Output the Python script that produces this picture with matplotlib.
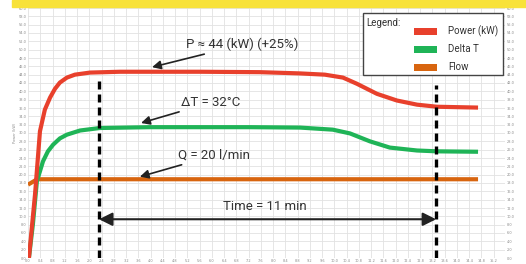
import matplotlib.pyplot as plt
from matplotlib.patches import Rectangle
import numpy as np

# Curves (time in min, value on the left scale)
power_t = [0.03, 0.23, 0.39, 0.55, 0.72, 0.88, 1.04, 1.27, 1.53, 2.02, 3.00, 5.61,
           7.57, 8.88, 9.69, 10.28, 10.74, 11.39, 12.04, 12.70, 13.35, 14.69]
power_v = [0.0, 15.3, 30.4, 35.6, 38.5, 40.6, 42.1, 43.3, 44.0, 44.5, 44.7, 44.7,
           44.6, 44.3, 44.0, 43.3, 41.8, 39.4, 37.8, 36.8, 36.3, 36.1]

delta_t = [0.03, 0.16, 0.29, 0.49, 0.65, 0.82, 1.04, 1.27, 1.70, 2.35, 3.98, 7.25,
           8.88, 9.95, 10.51, 11.16, 11.81, 12.70, 13.35, 14.69]
delta_v = [0.0, 8.1, 18.4, 23.2, 25.6, 27.2, 28.7, 29.6, 30.6, 31.2, 31.4, 31.4,
           31.3, 30.8, 29.9, 28.0, 26.5, 25.8, 25.6, 25.5]

flow_t = [0.0, 0.3, 14.69]
flow_v = [17.6, 18.9, 18.9]

# measurement window (min)
t_start = 2.32
t_end = 13.32

labels = ["Power (kW)", "Delta T", "Flow"]
colors = ["#e8402c", "#1fb457", "#d8650f"]

TXT = "#333333"
FONT = dict(family=["Roboto", "DejaVu Sans"])

fig = plt.figure(figsize=(5.26, 2.64), dpi=100)
fig.patches.append(Rectangle((12 / 526, 1 - 7 / 264), 1, 7 / 264,
                             transform=fig.transFigure, color="#f8e23a", zorder=0))

ax = fig.add_axes([28 / 526, 6 / 264, 477 / 526, 250 / 264])
ax.set_xlim(0, 15.57)
ax.set_ylim(0, 60)

# fine grid
ax.set_xticks(np.arange(0, 15.6, 0.4))
ax.set_yticks(np.arange(0, 61, 2))
ax.grid(True, color="#e2e2e2", lw=0.6)
ax.tick_params(length=0, labelsize=2.5, labelcolor="#888888", labelright=True, pad=1)
ax.xaxis.set_major_formatter(plt.FormatStrFormatter("%.1f"))
ax.yaxis.set_major_formatter(plt.FormatStrFormatter("%.1f"))
for s in ax.spines.values():
    s.set_visible(False)
ax.set_ylabel("Power (kW)", fontsize=2.5, color="#888888", labelpad=1)

ax.plot(flow_t, flow_v, color=colors[2], lw=3, solid_capstyle="butt", zorder=3)
ax.plot(delta_t, delta_v, color=colors[1], lw=3, solid_capstyle="butt", zorder=3)
ax.plot(power_t, power_v, color=colors[0], lw=3, solid_capstyle="butt", zorder=3)

# dashed window markers
ax.plot([t_start, t_start], [0, 43.6], color="black", lw=2.4,
        dashes=(2.4, 1.5), zorder=4)
ax.plot([t_end, t_end], [0, 41.6], color="black", lw=2.4,
        dashes=(2.4, 1.5), zorder=4)

ax.annotate("", xy=(t_start, 9.3), xytext=(t_end, 9.3),
            arrowprops=dict(arrowstyle="<|-|>", mutation_scale=20, color="#222222",
                            lw=1.5, shrinkA=0, shrinkB=0), zorder=5)
ax.text((t_start + t_end) / 2 - 0.1, 12.4, "Time = 11 min", ha="center", va="center",
        fontsize=9.5, color=TXT, **FONT)

arrow = dict(arrowstyle="-|>", mutation_scale=13, color="#222222", lw=1.2,
             shrinkA=0, shrinkB=0)
ax.annotate("P ≈ 44 (kW) (+25%)", xy=(4.05, 45.8), xytext=(5.16, 51.2),
            va="center", fontsize=9.5, color=TXT, arrowprops=arrow, **FONT)
ax.annotate("ΔT = 32°C", xy=(3.69, 32.4), xytext=(5.0, 37.3),
            va="center", fontsize=9.5, color=TXT, arrowprops=arrow, **FONT)
ax.annotate("Q = 20 l/min", xy=(3.65, 19.5), xytext=(4.9, 24.6),
            va="center", fontsize=9.5, color=TXT, arrowprops=arrow, **FONT)

# legend box
ax.add_patch(Rectangle((0.702, 0.733), 0.294, 0.247, transform=ax.transAxes,
                       facecolor="white", edgecolor="#444444", lw=1, zorder=6))
ax.text(0.709, 0.958, "Legend:", transform=ax.transAxes, va="top", ha="left",
        fontsize=7, color=TXT, zorder=7, **FONT)
for i, (lab, c) in enumerate(zip(labels, colors)):
    yc = 0.907 - i * 0.072
    ax.add_patch(Rectangle((0.809, yc - 0.014), 0.049, 0.028, transform=ax.transAxes,
                           facecolor=c, edgecolor="none", zorder=7))
    ax.text(0.880, yc, lab, transform=ax.transAxes, va="center", ha="left",
            fontsize=7, color=TXT, zorder=7, **FONT)

fig.savefig("out.png", dpi=100)
